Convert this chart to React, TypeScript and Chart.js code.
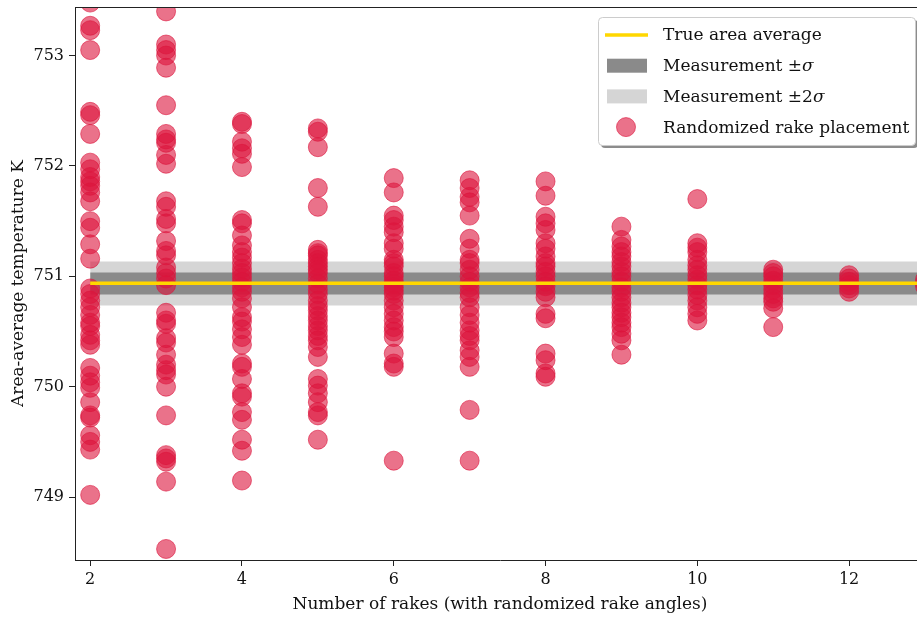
import { useEffect, useRef } from "react";
import { Chart, registerables } from "chart.js";

Chart.register(...registerables);

const FONT = "'DejaVu Serif', 'Liberation Serif', serif";

// Number of rakes (x categories) and sampled area-average temperatures (K)
const rakeCounts = [2, 3, 4, 5, 6, 7, 8, 9, 10, 11, 12, 13];

const rakes2 = [753.48, 753.27, 753.23, 753.05, 752.49, 752.46, 752.29, 752.03, 751.97, 751.9, 751.86, 751.82, 751.76, 751.68, 751.5, 751.44, 751.29, 751.16, 750.89, 750.84, 750.78, 750.72, 750.65, 750.58, 750.55, 750.47, 750.42, 750.38, 750.17, 750.1, 750.04, 749.99, 749.86, 749.74, 749.72, 749.56, 749.5, 749.43, 749.02];
const rakes3 = [753.4, 753.1, 753.05, 753.0, 752.89, 752.55, 752.29, 752.24, 752.21, 752.1, 752.02, 751.68, 751.63, 751.52, 751.48, 751.32, 751.23, 751.19, 751.08, 751.03, 750.98, 750.92, 750.67, 750.6, 750.57, 750.44, 750.4, 750.29, 750.2, 750.15, 750.11, 750.0, 749.74, 749.38, 749.35, 749.32, 749.14, 748.53];
const rakes4 = [752.4, 752.38, 752.22, 752.16, 752.11, 751.99, 751.51, 751.48, 751.37, 751.28, 751.22, 751.17, 751.12, 751.07, 751.03, 750.99, 750.95, 750.9, 750.86, 750.8, 750.72, 750.63, 750.59, 750.52, 750.45, 750.38, 750.21, 750.18, 750.07, 749.94, 749.91, 749.77, 749.7, 749.52, 749.42, 749.15];
const rakes5 = [752.34, 752.31, 752.17, 751.8, 751.63, 751.24, 751.21, 751.19, 751.15, 751.12, 751.09, 751.06, 751.03, 750.98, 750.93, 750.88, 750.84, 750.78, 750.73, 750.69, 750.64, 750.6, 750.55, 750.51, 750.46, 750.42, 750.36, 750.27, 750.07, 750.01, 749.94, 749.86, 749.77, 749.74, 749.52];
const rakes6 = [751.89, 751.76, 751.55, 751.51, 751.45, 751.4, 751.3, 751.25, 751.15, 751.12, 751.09, 751.03, 751.0, 750.96, 750.93, 750.9, 750.87, 750.84, 750.78, 750.72, 750.66, 750.6, 750.54, 750.5, 750.45, 750.3, 750.21, 750.18, 749.33];
const rakes7 = [751.87, 751.8, 751.72, 751.67, 751.55, 751.34, 751.25, 751.15, 751.12, 751.06, 751.0, 750.95, 750.9, 750.85, 750.81, 750.72, 750.65, 750.58, 750.51, 750.46, 750.42, 750.33, 750.27, 750.18, 749.79, 749.33];
const rakes8 = [751.86, 751.73, 751.54, 751.48, 751.42, 751.3, 751.25, 751.18, 751.12, 751.09, 751.04, 751.0, 750.95, 750.91, 750.86, 750.81, 750.66, 750.62, 750.3, 750.24, 750.12, 750.09];
const rakes9 = [751.45, 751.33, 751.27, 751.22, 751.18, 751.13, 751.09, 751.04, 751.0, 750.95, 750.9, 750.86, 750.81, 750.76, 750.72, 750.67, 750.63, 750.58, 750.54, 750.48, 750.42, 750.29];
const rakes10 = [751.7, 751.3, 751.26, 751.22, 751.15, 751.1, 751.06, 751.01, 750.97, 750.92, 750.88, 750.83, 750.78, 750.72, 750.66, 750.6];
const rakes11 = [751.06, 751.03, 751.0, 750.96, 750.92, 750.88, 750.84, 750.8, 750.77, 750.71, 750.54];
const rakes12 = [751.01, 750.98, 750.95, 750.92, 750.89, 750.86];
const rakes13 = [750.97, 750.94, 750.91];

const rakeSamples = [rakes2, rakes3, rakes4, rakes5, rakes6, rakes7, rakes8, rakes9, rakes10, rakes11, rakes12, rakes13];

// Reference values
const trueAverage = 750.937;
const sigmaBand = [750.835, 751.035];
const twoSigmaBand = [750.735, 751.135];
const bandExtent = [2, 13];

// Axes
const xRange = [1.8, 13.0];
const yRange = [748.43, 753.44];
const xTicks = [2, 4, 6, 8, 10, 12];
const yTicks = [749, 750, 751, 752, 753];

const xTitle = "Number of rakes (with randomized rake angles)";
const yTitle = "Area-average temperature K";

const labelTrue = "True area average";
const labelSigma = "Measurement \u00b1\u03c3";
const labelTwoSigma = "Measurement \u00b12\u03c3";
const labelScatter = "Randomized rake placement";

const GOLD = "#FFD700";
const DARK_GRAY = "#8a8a8a";
const LIGHT_GRAY = "#d5d5d5";
const CRIMSON = "rgba(220, 20, 60, 0.6)";

const zeroPadding = (scale: any) => {
  scale.paddingLeft = 0;
  scale.paddingRight = 0;
  scale.paddingTop = 0;
  scale.paddingBottom = 0;
  if (scale._margins) {
    scale._margins.left = 0;
    scale._margins.right = 0;
    scale._margins.top = 0;
    scale._margins.bottom = 0;
  }
};

const topSpinePlugin = {
  id: "topSpine",
  afterDraw(chart: any) {
    const { ctx, chartArea } = chart;
    ctx.save();
    ctx.strokeStyle = "#222";
    ctx.lineWidth = 1;
    ctx.beginPath();
    ctx.moveTo(chartArea.left, Math.round(chartArea.top) + 0.5);
    ctx.lineTo(chartArea.right, Math.round(chartArea.top) + 0.5);
    ctx.stroke();
    ctx.restore();
  },
};

const boxLegendPlugin = {
  id: "boxLegend",
  afterDraw(chart: any) {
    const { ctx } = chart;
    const items = chart.data.datasets
      .filter((d: any) => d.legendRank !== undefined)
      .sort((a: any, b: any) => a.legendRank - b.legendRank);
    const bx = 598, by = 17, bw = 317, bh = 128, r = 4;
    ctx.save();
    ctx.fillStyle = "rgba(0,0,0,0.45)";
    ctx.beginPath();
    ctx.roundRect(bx + 3, by + 3, bw, bh, r);
    ctx.fill();
    ctx.fillStyle = "#ffffff";
    ctx.strokeStyle = "#cccccc";
    ctx.lineWidth = 1;
    ctx.beginPath();
    ctx.roundRect(bx + 0.5, by + 0.5, bw, bh, r);
    ctx.fill();
    ctx.stroke();

    const rowY = (i: number) => 35 + i * 30.7;
    items.forEach((d: any, i: number) => {
      const cy = rowY(i);
      if (d.legendKind === "line") {
        ctx.strokeStyle = d.borderColor;
        ctx.lineWidth = 3.5;
        ctx.beginPath();
        ctx.moveTo(605, cy);
        ctx.lineTo(648, cy);
        ctx.stroke();
      } else if (d.legendKind === "band") {
        ctx.fillStyle = d.backgroundColor;
        ctx.fillRect(607, cy - 7, 40, 14);
      } else {
        ctx.fillStyle = d.backgroundColor;
        ctx.strokeStyle = d.borderColor;
        ctx.lineWidth = 1;
        ctx.beginPath();
        ctx.arc(626, cy, 9.5, 0, Math.PI * 2);
        ctx.fill();
        ctx.stroke();
      }
      ctx.fillStyle = "#111";
      ctx.textBaseline = "middle";
      ctx.textAlign = "left";
      const text: string = d.label;
      const sigmaAt = text.indexOf("\u03c3");
      ctx.font = `17px ${FONT}`;
      if (sigmaAt >= 0) {
        const head = text.slice(0, sigmaAt);
        ctx.fillText(head, 663, cy + 1);
        const w = ctx.measureText(head).width;
        ctx.font = `italic 17px ${FONT}`;
        ctx.fillText(text.slice(sigmaAt), 663 + w, cy + 1);
      } else {
        ctx.fillText(text, 663, cy + 1);
      }
    });
    ctx.restore();
  },
};

export default function App() {
  const canvasRef = useRef<HTMLCanvasElement | null>(null);

  useEffect(() => {
    const canvas = canvasRef.current;
    if (!canvas) return;

    const scatterData: { x: number; y: number }[] = [];
    rakeCounts.forEach((n, i) => {
      rakeSamples[i].forEach((v) => scatterData.push({ x: n, y: v }));
    });

    const chart = new Chart(canvas, {
      type: "scatter",
      data: {
        datasets: [
          {
            type: "line",
            label: labelTrue,
            data: bandExtent.map((x) => ({ x, y: trueAverage })),
            borderColor: GOLD,
            borderWidth: 3.5,
            pointRadius: 0,
            fill: false,
            order: 0,
            legendRank: 0,
            legendKind: "line",
          } as any,
          {
            type: "scatter",
            label: labelScatter,
            data: scatterData,
            backgroundColor: CRIMSON,
            borderColor: CRIMSON,
            borderWidth: 1,
            pointRadius: 9.5,
            order: 1,
            legendRank: 3,
            legendKind: "point",
          } as any,
          {
            type: "line",
            label: labelSigma,
            data: bandExtent.map((x) => ({ x, y: sigmaBand[1] })),
            backgroundColor: DARK_GRAY,
            borderWidth: 0,
            pointRadius: 0,
            fill: { value: sigmaBand[0] },
            order: 2,
            legendRank: 1,
            legendKind: "band",
          } as any,
          {
            type: "line",
            label: labelTwoSigma,
            data: bandExtent.map((x) => ({ x, y: twoSigmaBand[1] })),
            backgroundColor: LIGHT_GRAY,
            borderWidth: 0,
            pointRadius: 0,
            fill: { value: twoSigmaBand[0] },
            order: 3,
            legendRank: 2,
            legendKind: "band",
          } as any,
        ],
      },
      options: {
        responsive: false,
        animation: false,
        events: [],
        layout: { autoPadding: false, padding: { top: 7, left: 0, right: 0, bottom: 0 } },
        plugins: {
          legend: { display: false },
          tooltip: { enabled: false },
        },
        scales: {
          x: {
            type: "linear",
            min: xRange[0],
            max: xRange[1],
            afterBuildTicks: (scale: any) => {
              scale.ticks = xTicks.map((v) => ({ value: v }));
            },
            afterFit: (scale: any) => {
              scale.height = 57;
              zeroPadding(scale);
            },
            ticks: {
              font: { family: FONT, size: 16 },
              color: "#111",
              padding: 4,
              maxRotation: 0,
              autoSkip: false,
            },
            grid: {
              display: true,
              drawOnChartArea: false,
              drawTicks: true,
              tickLength: 6,
              color: "#222",
            },
            border: { display: true, color: "#222", width: 1 },
            title: {
              display: true,
              text: xTitle,
              font: { family: FONT, size: 17 },
              color: "#111",
              padding: { top: 0, bottom: 2 },
            },
          },
          y: {
            type: "linear",
            min: yRange[0],
            max: yRange[1],
            afterBuildTicks: (scale: any) => {
              scale.ticks = yTicks.map((v) => ({ value: v }));
            },
            afterFit: (scale: any) => {
              scale.width = 75;
              zeroPadding(scale);
            },
            ticks: {
              font: { family: FONT, size: 16 },
              color: "#111",
              padding: 5,
              autoSkip: false,
            },
            grid: {
              display: true,
              drawOnChartArea: false,
              drawTicks: true,
              tickLength: 6,
              color: "#222",
            },
            border: { display: true, color: "#222", width: 1 },
            title: {
              display: true,
              text: yTitle,
              font: { family: FONT, size: 17 },
              color: "#111",
              padding: { top: 8, bottom: 0 },
            },
          },
        },
      },
      plugins: [topSpinePlugin, boxLegendPlugin],
    } as any);

    return () => chart.destroy();
  }, []);

  return (
    <div
      style={{
        position: "fixed",
        left: 0,
        top: 0,
        width: 917,
        height: 617,
        overflow: "hidden",
        background: "#fff",
      }}
    >
      <canvas ref={canvasRef} width={925} height={617} style={{ display: "block" }} />
    </div>
  );
}
